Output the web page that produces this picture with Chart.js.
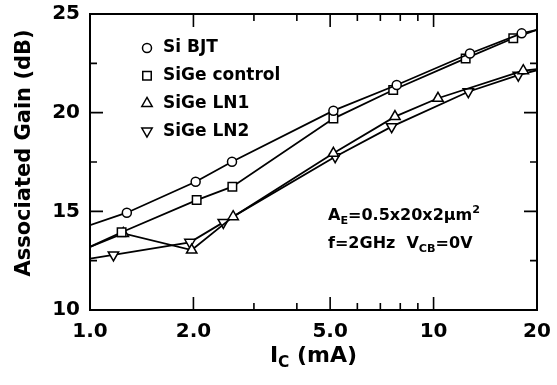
<!DOCTYPE html>
<html><head><meta charset="utf-8">
<script src="https://cdn.jsdelivr.net/npm/chart.js@4"></script>
<style>html,body{margin:0;padding:0;background:#fff}#wrap{width:557px;height:385px}</style>
</head><body><div id="wrap"><canvas id="c" width="557" height="385"></canvas></div>
<script>
// ---- data ----
const seriesNames = ['Si BJT', 'SiGe control', 'SiGe LN1', 'SiGe LN2'];
const icSiBJT   = [1.0, 1.28, 2.03, 2.59, 5.11, 7.81, 12.76, 18.05, 20];
const gainSiBJT = [14.3, 14.93, 16.5, 17.51, 20.1, 21.4, 23.0, 24.02, 24.2];
const icCtrl    = [1.0, 1.236, 2.044, 2.596, 5.11, 7.63, 12.4, 17.06, 20];
const gainCtrl  = [13.2, 13.94, 15.57, 16.25, 19.7, 21.15, 22.75, 23.77, 24.2];
const icLN1     = [1.0, 1.25, 1.977, 2.61, 5.11, 7.72, 10.3, 18.24, 20];
const gainLN1   = [13.2, 13.88, 13.04, 14.73, 17.94, 19.8, 20.73, 22.13, 22.2];
const icLN2     = [1.0, 1.17, 1.954, 2.443, 5.17, 7.55, 12.62, 17.64, 20];
const gainLN2   = [12.6, 12.79, 13.43, 14.44, 17.77, 19.29, 21.06, 21.9, 22.15];
const xTickValues = [1, 2, 5, 10, 20];
const xTickLabels = ['1.0', '2.0', '5.0', '10', '20'];
const xMinorTicks = [3, 4, 6, 7, 8, 9];
const yTickValues = [10, 15, 20, 25];
const yMinorTicks = [12.5, 17.5, 22.5];

const FONT = "'DejaVu Sans', 'Liberation Sans', Arial, sans-serif";
const pts = (xs, ys) => xs.map((x, i) => ({x: x, y: ys[i]}));
const hideEnds = r => ctx => (ctx.dataIndex === 0 || ctx.dataIndex === ctx.dataset.data.length - 1) ? 0 : r;

const styles = [
  {pointStyle: 'circle', radius: 4.5, rotation: 0},
  {pointStyle: 'rect', radius: 6, rotation: 0},
  {pointStyle: 'triangle', radius: 6, rotation: 0},
  {pointStyle: 'triangle', radius: 6, rotation: 180}
];
const seriesData = [pts(icSiBJT, gainSiBJT), pts(icCtrl, gainCtrl), pts(icLN1, gainLN1), pts(icLN2, gainLN2)];

const datasets = seriesNames.map((name, i) => ({
  label: name,
  data: seriesData[i],
  borderColor: '#000',
  borderWidth: 1.8,
  backgroundColor: '#fff',
  pointBackgroundColor: '#fff',
  pointBorderColor: '#000',
  pointBorderWidth: 1.5,
  pointStyle: styles[i].pointStyle,
  pointRotation: styles[i].rotation,
  pointRadius: hideEnds(styles[i].radius),
  tension: 0,
  fill: false
}));

function drawMarker(ctx, st, x, y) {
  ctx.save();
  ctx.strokeStyle = '#000'; ctx.fillStyle = '#fff'; ctx.lineWidth = 1.5;
  if (Chart.helpers && Chart.helpers.drawPoint) {
    Chart.helpers.drawPoint(ctx, {pointStyle: st.pointStyle, radius: st.radius, rotation: st.rotation, borderWidth: 1.5}, x, y);
  } else {
    ctx.beginPath(); ctx.arc(x, y, st.radius, 0, Math.PI * 2); ctx.fill(); ctx.stroke();
  }
  ctx.restore();
}

function drawRich(ctx, parts, x, y, size) {
  let cx = x;
  parts.forEach(p => {
    let fs = size, dy = 0;
    if (p.sub) { fs = size * 0.7; dy = size * 0.3; }
    if (p.sup) { fs = size * 0.7; dy = -size * 0.4; }
    ctx.font = 'bold ' + fs + 'px ' + FONT;
    ctx.fillText(p.t, cx, y + dy);
    cx += ctx.measureText(p.t).width;
  });
  return cx - x;
}
function richWidth(ctx, parts, size) {
  let w = 0;
  parts.forEach(p => {
    const fs = (p.sub || p.sup) ? size * 0.7 : size;
    ctx.font = 'bold ' + fs + 'px ' + FONT;
    w += ctx.measureText(p.t).width;
  });
  return w;
}

const decor = {
  id: 'decor',
  afterDraw(chart) {
    const ctx = chart.ctx, a = chart.chartArea;
    const xs = chart.scales.x, ys = chart.scales.y;
    ctx.save();
    ctx.strokeStyle = '#000';
    // ticks (inward, all four sides)
    ctx.lineWidth = 1.6;
    ctx.beginPath();
    const majX = xTickValues.slice(1, -1), majY = yTickValues.slice(1, -1);
    majX.forEach(v => { const p = xs.getPixelForValue(v); ctx.moveTo(p, a.bottom); ctx.lineTo(p, a.bottom - 13); ctx.moveTo(p, a.top); ctx.lineTo(p, a.top + 13); });
    xMinorTicks.forEach(v => { const p = xs.getPixelForValue(v); ctx.moveTo(p, a.bottom); ctx.lineTo(p, a.bottom - 7); ctx.moveTo(p, a.top); ctx.lineTo(p, a.top + 7); });
    majY.forEach(v => { const p = ys.getPixelForValue(v); ctx.moveTo(a.left, p); ctx.lineTo(a.left + 13, p); ctx.moveTo(a.right, p); ctx.lineTo(a.right - 13, p); });
    yMinorTicks.forEach(v => { const p = ys.getPixelForValue(v); ctx.moveTo(a.left, p); ctx.lineTo(a.left + 7, p); ctx.moveTo(a.right, p); ctx.lineTo(a.right - 7, p); });
    ctx.stroke();
    // frame
    ctx.lineWidth = 2;
    ctx.strokeRect(a.left, a.top, a.right - a.left, a.bottom - a.top);

    ctx.fillStyle = '#000';
    ctx.textBaseline = 'middle';
    ctx.textAlign = 'left';
    // legend
    const legX = 147, legT = 48, legStep = 27.7;
    seriesNames.forEach((n, i) => {
      const y = legT + i * legStep;
      drawMarker(ctx, styles[i], legX, y);
      ctx.font = 'bold 17px ' + FONT;
      ctx.fillText(n, legX + 16, y);
    });
    // annotation
    drawRich(ctx, [{t: 'A'}, {t: 'E', sub: true}, {t: '=0.5x20x2\u00b5m'}, {t: '2', sup: true}], 328, 216, 16);
    drawRich(ctx, [{t: 'f=2GHz  V'}, {t: 'CB', sub: true}, {t: '=0V'}], 328, 244, 16);
    // x title
    const xt = [{t: 'I'}, {t: 'C', sub: true}, {t: ' (mA)'}];
    const w = richWidth(ctx, xt, 22);
    drawRich(ctx, xt, (a.left + a.right) / 2 - w / 2, 356, 22);
    // y title
    ctx.save();
    ctx.translate(25, 153);
    ctx.rotate(-Math.PI / 2);
    ctx.textAlign = 'center';
    ctx.font = 'bold 21px ' + FONT;
    ctx.fillText('Associated Gain (dB)', 0, 0);
    ctx.restore();
    ctx.restore();
  }
};

new Chart(document.getElementById('c'), {
  type: 'line',
  data: {datasets: datasets},
  plugins: [decor],
  options: {
    responsive: false,
    devicePixelRatio: 1,
    animation: false,
    layout: {padding: {left: 0, top: 14, right: 20, bottom: 0}},
    plugins: {legend: {display: false}, tooltip: {enabled: false}},
    scales: {
      x: {
        type: 'logarithmic', min: 1, max: 20,
        grid: {display: false, drawTicks: false}, border: {display: false},
        afterBuildTicks: s => { s.ticks = xTickValues.map(v => ({value: v})); },
        afterFit: s => { s.height = 75; s.paddingLeft = 0; s.paddingRight = 0; },
        ticks: {
          autoSkip: false, maxRotation: 0, padding: 10, color: '#000',
          font: {family: FONT, size: 20, weight: 'bold'},
          callback: v => { const i = xTickValues.indexOf(v); return i >= 0 ? xTickLabels[i] : ''; }
        }
      },
      y: {
        type: 'linear', min: 10, max: 25,
        grid: {display: false, drawTicks: false}, border: {display: false},
        afterBuildTicks: s => { s.ticks = yTickValues.map(v => ({value: v})); },
        afterFit: s => { s.width = 90; s.paddingTop = 0; s.paddingBottom = 0; },
        ticks: {padding: 10, color: '#000', font: {family: FONT, size: 20, weight: 'bold'}}
      }
    }
  }
});
</script></body></html>
